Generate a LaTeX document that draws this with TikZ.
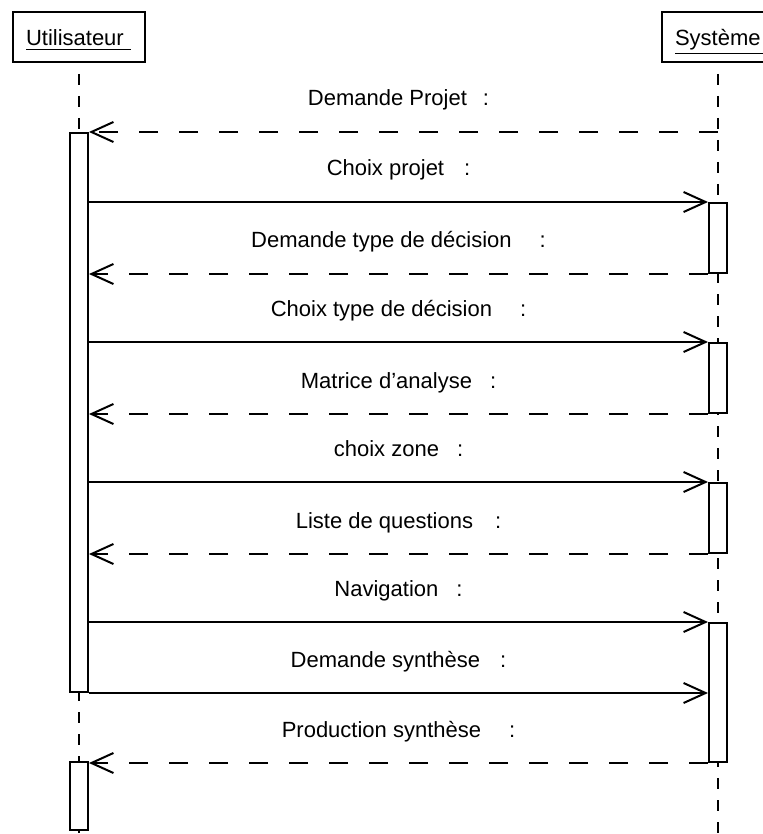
\documentclass[tikz,border=0pt]{standalone}
\usepackage{fontspec}
\setmainfont{Liberation Sans}
\usepackage{xcolor}
\definecolor{trait}{RGB}{0,0,0}
\usepackage{tikz}
\usetikzlibrary{
    arrows.meta,
    positioning,
    calc
}

\tikzset{
    acteur/.style={draw=trait, line width=1pt, minimum height=25pt, align=left, inner xsep=6.5pt, inner ysep=0pt, text height=11pt, text depth=2pt},
    activ/.style={draw=trait, fill=white, line width=1pt, minimum width=9pt, inner sep=0pt},
    ligne/.style={draw=trait, line width=1pt, dash pattern=on 5.5pt off 5.5pt, dash phase=5.5pt},
    appel/.style={draw=trait, line width=1pt, -{Straight Barb[length=11pt, width=10pt]}},
    retour/.style={appel, dash pattern=on 9.5pt off 10.5pt},
    etiq/.style={midway, anchor=base, yshift=13pt, text=trait}
}

\begin{document}
\begin{tikzpicture}[x=0.5pt, y=-0.5pt, font=\fontsize{11}{13}\selectfont]
        \clip (0, 0) rectangle (763, 834);
        % acteurs et lignes de vie
        \node[acteur, text width=53pt] (user) at (79, 37) {\underline{Utilisateur\ }};
        \node[acteur, text width=43pt] (sys) at (718, 37) {\underline{Système\ }};
        \draw[ligne] (user.south) -- (user.south |- 0, 834);
        \draw[ligne] (sys.south) -- (sys.south |- 0, 834);

        % activations
        \node[activ, minimum height=279.5pt] (ua1) at (79, 412.5) {};
        \node[activ, minimum height=34pt] (ua2) at (79, 796) {};
        \node[activ, minimum height=35pt] (sa1) at (718, 238) {};
        \node[activ, minimum height=35pt] (sa2) at (718, 378) {};
        \node[activ, minimum height=35pt] (sa3) at (718, 518) {};
        \node[activ, minimum height=69.5pt] (sa4) at (718, 692.5) {};

        % messages
        \draw[retour] (sys.south |- ua1.north east) -- (ua1.north east) node[etiq, xshift=-2.5pt] {Demande Projet\hspace{8pt}:};
        \draw[appel] (ua1.east |- sa1.north west) -- (sa1.north west) node[etiq] {Choix projet\hspace{10pt}:};
        \draw[retour] (sa1.south west) -- (ua1.east |- sa1.south west) node[etiq] {Demande type de décision\hspace{14pt}:};
        \draw[appel] (ua1.east |- sa2.north west) -- (sa2.north west) node[etiq] {Choix type de décision\hspace{14pt}:};
        \draw[retour] (sa2.south west) -- (ua1.east |- sa2.south west) node[etiq] {Matrice d’analyse\hspace{9pt}:};
        \draw[appel] (ua1.east |- sa3.north west) -- (sa3.north west) node[etiq] {choix zone\hspace{9pt}:};
        \draw[retour] (sa3.south west) -- (ua1.east |- sa3.south west) node[etiq] {Liste de questions\hspace{11pt}:};
        \draw[appel] (ua1.east |- sa4.north west) -- (sa4.north west) node[etiq] {Navigation\hspace{9pt}:};
        \draw[appel] (ua1.south east) -- (sa4.west |- ua1.south east) node[etiq] {Demande synthèse\hspace{10pt}:};
        \draw[retour] (sa4.south west) -- (ua2.east |- sa4.south west) node[etiq] {Production synthèse\hspace{14pt}:};
    \end{tikzpicture}
\end{document}
